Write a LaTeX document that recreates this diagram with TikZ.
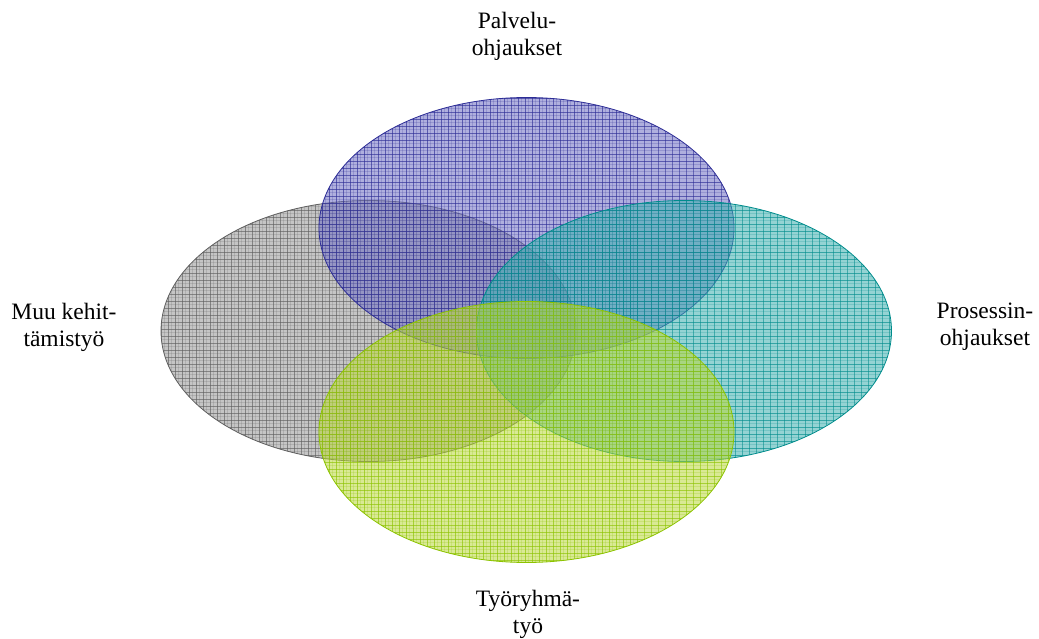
\documentclass[tikz,border=0pt]{standalone}
\usepackage{fontspec}
\setmainfont{Liberation Serif}
\begin{document}
\begin{tikzpicture}[x=1pt,y=-1pt,
  lab/.style={align=center,font=\fontsize{23.5}{27}\selectfont,inner sep=0pt},
  rim/.style={line width=0.8pt}]
\useasboundingbox (0,0) rectangle (1039,639);
\definecolor{bluef}{RGB}{110,110,195}
\definecolor{blueg}{RGB}{45,45,150}
\definecolor{grayf}{RGB}{150,150,150}
\definecolor{grayg}{RGB}{95,95,95}
\definecolor{tealf}{RGB}{60,175,175}
\definecolor{tealg}{RGB}{0,140,140}
\definecolor{greenf}{RGB}{185,215,60}
\definecolor{greeng}{RGB}{140,195,0}
% one hatched, translucent set: centre x, centre y, fill colour, grid colour
\newcommand\hatchset[4]{%
  \begin{scope}
    \clip (#1,#2) ellipse [x radius=207.5, y radius=130.5];
    \fill[#3,fill opacity=0.55] (#1,#2) ellipse [x radius=207.5, y radius=130.5];
    \foreach \k in {0,3.5,...,640} {
      \draw[#4,line width=0.25pt,opacity=0.2] (\k,0) -- (\k,639);
      \draw[#4,line width=0.25pt,opacity=0.2] (0,\k) -- (1039,\k);}
    \foreach \k in {0,7,...,1040} {
      \draw[#4,line width=0.6pt,opacity=0.55] (\k,0) -- (\k,639);}
    \foreach \k in {0,7,...,640} {
      \draw[#4,line width=0.6pt,opacity=0.55] (0,\k) -- (1039,\k);}
  \end{scope}
  \draw[#4,rim] (#1,#2) ellipse [x radius=207.5, y radius=130.5];}
\hatchset{368.5}{331}{grayf}{grayg}
\hatchset{526.5}{228}{bluef}{blueg}
\hatchset{684}{331}{tealf}{tealg}
\hatchset{526.5}{432}{greenf}{greeng}
\node[lab] (palvelu) at (517,36) {Palvelu-\\ohjaukset};
\node[lab] (muu) at (64,327) {Muu kehit-\\tämistyö};
\node[lab] (prosessi) at (985,327) {Prosessin-\\ohjaukset};
\node[lab] (tyoryhma) at (528,614) {Työryhmä-\\työ};
\end{tikzpicture}
\end{document}
